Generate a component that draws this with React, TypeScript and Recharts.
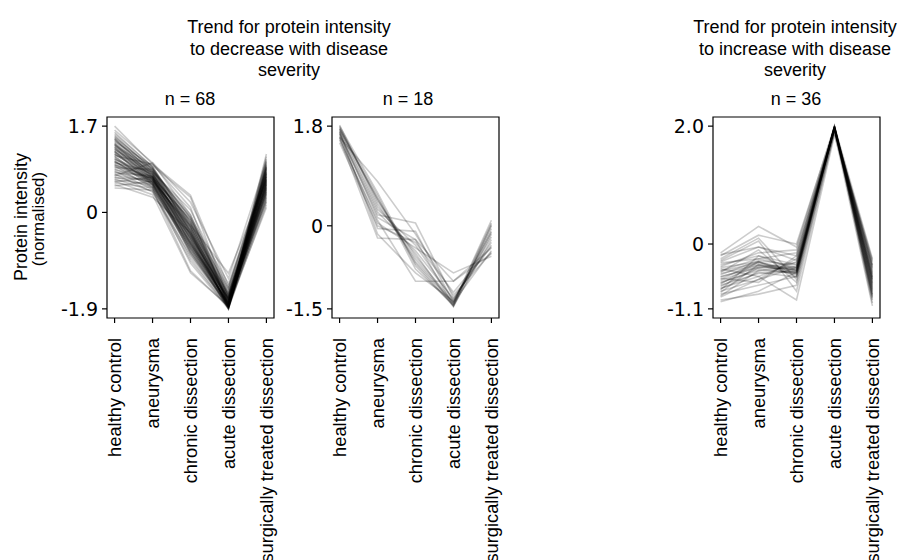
import React from "react";
import { LineChart, Line, XAxis, YAxis, ReferenceArea } from "recharts";

const categories = [
  "healthy control",
  "aneurysma",
  "chronic dissection",
  "acute dissection",
  "surgically treated dissection",
];

// proteins trending down, cluster 1 (n = 68)
const decreaseA: number[][] = [
  [1.7, 0.95, 0.1, -1.85, 1.15],
  [1.55, 0.9, -0.2, -1.8, 1.05],
  [1.5, 0.85, -0.35, -1.9, 0.95],
  [1.45, 0.8, -0.1, -1.75, 0.9],
  [1.4, 0.92, 0.3, -1.7, 0.85],
  [1.38, 0.75, -0.45, -1.85, 0.8],
  [1.35, 0.7, -0.6, -1.88, 0.75],
  [1.32, 0.88, -0.25, -1.65, 0.7],
  [1.3, 0.65, -0.5, -1.8, 0.88],
  [1.28, 0.6, -0.7, -1.9, 0.65],
  [1.25, 0.82, -0.05, -1.6, 0.6],
  [1.22, 0.78, -0.3, -1.72, 0.78],
  [1.2, 0.55, -0.8, -1.85, 0.55],
  [1.18, 0.72, -0.4, -1.78, 0.72],
  [1.15, 0.68, -0.15, -1.55, 0.5],
  [1.12, 0.95, 0.34, -1.45, 0.68],
  [1.1, 0.62, -0.55, -1.82, 0.45],
  [1.08, 0.58, -0.65, -1.7, 0.62],
  [1.05, 0.75, -0.2, -1.62, 0.82],
  [1.02, 0.5, -0.9, -1.88, 0.4],
  [1.0, 0.66, -0.35, -1.76, 0.58],
  [0.98, 0.8, 0.05, -1.5, 0.92],
  [0.96, 0.55, -0.75, -1.84, 0.35],
  [0.94, 0.7, -0.45, -1.68, 0.52],
  [0.92, 0.48, -1.0, -1.9, 0.3],
  [0.9, 0.62, -0.28, -1.58, 0.66],
  [0.88, 0.85, -0.1, -1.4, 0.76],
  [0.86, 0.52, -0.6, -1.8, 0.42],
  [0.84, 0.68, -0.38, -1.72, 0.55],
  [0.82, 0.45, -1.15, -1.86, 0.25],
  [0.8, 0.58, -0.5, -1.64, 0.48],
  [0.78, 0.72, -0.22, -1.52, 0.7],
  [0.76, 0.4, -0.85, -1.82, 0.2],
  [0.74, 0.6, -0.42, -1.74, 0.38],
  [0.72, 0.98, 0.2, -1.3, 1.0],
  [0.7, 0.5, -0.68, -1.78, 0.32],
  [0.68, 0.65, -0.32, -1.66, 0.6],
  [0.66, 0.42, -0.95, -1.88, 0.15],
  [0.64, 0.55, -0.58, -1.7, 0.44],
  [0.62, 0.35, -1.19, -1.84, 0.1],
  [0.6, 0.7, -0.15, -1.48, 0.8],
  [0.58, 0.48, -0.72, -1.76, 0.28],
  [0.55, 0.3, -0.4, -1.6, 0.36],
  [0.52, 0.62, -0.25, -1.2, 0.64],
  [0.48, 0.44, -0.62, -1.68, 0.22],
  [1.62, 0.98, -0.05, -1.82, 1.1],
  [1.48, 0.88, -0.42, -1.88, 0.86],
  [1.42, 0.82, -0.55, -1.86, 0.98],
  [1.36, 0.76, -0.3, -1.78, 0.74],
  [1.33, 0.7, -0.48, -1.84, 0.84],
  [1.26, 0.66, -0.62, -1.8, 0.66],
  [1.24, 0.8, -0.18, -1.74, 0.9],
  [1.16, 0.64, -0.52, -1.86, 0.58],
  [1.14, 0.74, -0.36, -1.7, 0.72],
  [1.06, 0.6, -0.58, -1.82, 0.5],
  [1.04, 0.7, -0.44, -1.76, 0.62],
  [0.99, 0.64, -0.52, -1.84, 0.46],
  [1.46, 0.78, -0.64, -1.9, 0.78],
  [1.52, 0.84, -0.38, -1.86, 0.94],
  [1.58, 0.9, -0.28, -1.84, 1.02],
  [1.44, 0.72, -0.76, -1.88, 0.7],
  [1.34, 0.68, -0.82, -1.86, 0.56],
  [1.21, 0.58, -0.7, -1.82, 0.54],
  [1.11, 0.54, -0.78, -1.8, 0.4],
  [1.01, 0.56, -0.66, -1.78, 0.48],
  [1.29, 0.86, -0.12, -1.68, 0.88],
  [1.19, 0.76, -0.26, -1.62, 0.76],
  [0.93, 0.66, -0.46, -1.72, 0.64],
];

// proteins trending down, cluster 2 (n = 18)
const decreaseB: number[][] = [
  [1.8, 0.6, -0.72, -1.45, 0.02],
  [1.75, 0.55, -0.78, -1.42, -0.05],
  [1.72, 0.5, -0.65, -1.4, 0.05],
  [1.78, 0.45, -0.55, -1.38, -0.1],
  [1.7, 0.3, -0.35, -1.35, -0.2],
  [1.65, 0.2, 0.05, -1.3, -0.35],
  [1.62, -0.05, -0.1, -1.38, -0.45],
  [1.68, 0.15, -0.25, -1.44, -0.25],
  [1.58, -0.22, -0.25, -1.0, -0.4],
  [1.55, 0.1, -1.0, -1.0, -0.5],
  [1.6, 0.05, -0.4, -0.85, -0.55],
  [1.74, 0.35, -0.5, -1.46, -0.15],
  [1.82, 0.4, -0.6, -1.4, 0.1],
  [1.66, 0.25, -0.45, -1.32, -0.3],
  [1.5, 0.0, -0.3, -1.2, -0.38],
  [1.76, 0.48, -0.68, -1.44, 0.0],
  [1.6, 0.8, -0.15, -1.25, -0.48],
  [1.7, -0.15, -0.85, -1.36, -0.12],
];

// proteins trending up (n = 36)
const increase: number[][] = [
  [-0.15, 0.3, -0.05, 2.0, -0.25],
  [-0.2, 0.15, 0.0, 1.98, -0.35],
  [-0.3, -0.05, -0.2, 1.97, -0.4],
  [-0.35, -0.2, -0.35, 1.99, -0.45],
  [-0.4, -0.3, -0.45, 2.0, -0.55],
  [-0.45, -0.25, -0.4, 1.96, -0.5],
  [-0.5, -0.35, -0.48, 1.98, -0.6],
  [-0.55, -0.4, -0.42, 1.95, -0.65],
  [-0.6, -0.3, -0.5, 1.99, -0.7],
  [-0.65, -0.45, -0.38, 1.97, -0.72],
  [-0.7, -0.5, -0.46, 2.0, -0.8],
  [-0.75, -0.55, -0.3, 1.94, -0.85],
  [-0.8, -0.6, -0.25, 1.96, -0.9],
  [-0.85, -0.7, -0.55, 1.98, -0.95],
  [-0.95, -0.85, -0.7, 1.9, -1.05],
  [-0.25, 0.1, -0.6, 1.92, -0.3],
  [-0.38, -0.15, -0.1, 1.95, -0.42],
  [-0.48, -0.1, -0.65, 1.93, -0.58],
  [-0.58, -0.65, -0.2, 1.97, -0.62],
  [-0.68, -0.3, -0.55, 1.99, -0.76],
  [-0.78, -0.2, -0.44, 2.0, -0.82],
  [-0.88, -0.45, -0.48, 1.98, -0.88],
  [-0.42, -0.55, -0.95, 1.85, -0.48],
  [-0.52, -0.28, -0.36, 1.99, -0.56],
  [-0.62, -0.38, -0.44, 1.97, -0.66],
  [-0.72, -0.4, -0.32, 1.96, -0.74],
  [-0.82, -0.35, -0.52, 1.99, -0.86],
  [-0.32, -0.25, -0.15, 1.95, -0.36],
  [-0.46, -0.32, -0.46, 2.0, -0.52],
  [-0.56, -0.36, -0.4, 1.98, -0.6],
  [-0.66, -0.42, -0.5, 1.97, -0.68],
  [-0.76, -0.48, -0.56, 1.96, -0.78],
  [-0.9, -0.6, -0.4, 1.98, -0.92],
  [-0.18, -0.05, -0.28, 1.94, -0.28],
  [-0.28, 0.05, -0.8, 1.9, -0.38],
  [-0.98, -0.8, -0.48, 1.96, -1.0],
];

const ticksA = [-1.9, 0, 1.7];
const ticksB = [-1.5, 0, 1.8];
const ticksC = [-1.1, 0, 2.0];
const tickLabelsA = ["-1.9", "0", "1.7"];
const tickLabelsB = ["-1.5", "0", "1.8"];
const tickLabelsC = ["-1.1", "0", "2.0"];

const SANS = "'Liberation Sans', Arial, Helvetica, sans-serif";
const NUM = "'DejaVu Sans', sans-serif";

const PLOT_TOP = 117;
const PLOT_H = 201;
const PLOT_W = 167;
const AXIS_W = 70;

function CatTick(props: any) {
  const { x, y, payload } = props;
  return (
    <text
      x={x}
      y={y}
      transform={`rotate(-90 ${x} ${y})`}
      textAnchor="end"
      dy="0.35em"
      fill="#000"
      fontSize={18.3}
      fontFamily={SANS}
    >
      {categories[payload.value]}
    </text>
  );
}

function Panel({
  profiles,
  ticks,
  labels,
  plotLeft,
  opacity,
}: {
  profiles: number[][];
  ticks: number[];
  labels: string[];
  plotLeft: number;
  opacity: number;
}) {
  const pad = (ticks[ticks.length - 1] - ticks[0]) * 0.05;
  const domain = [ticks[0] - pad, ticks[ticks.length - 1] + pad];
  const rows = categories.map((_, i) => {
    const row: Record<string, number> = { x: i };
    profiles.forEach((p, j) => {
      row["p" + j] = p[i];
    });
    return row;
  });
  return (
    <div style={{ position: "absolute", left: plotLeft - AXIS_W, top: 0 }}>
      <LineChart
        width={AXIS_W + PLOT_W + 8}
        height={560}
        data={rows}
        margin={{ top: PLOT_TOP, right: 8, bottom: 0, left: 0 }}
      >
        <XAxis
          dataKey="x"
          type="number"
          domain={[-0.2, 4.2]}
          ticks={[0, 1, 2, 3, 4]}
          interval={0}
          height={560 - PLOT_TOP - PLOT_H}
          axisLine={false}
          tickLine={{ stroke: "#000", strokeWidth: 1.2 }}
          tickSize={5}
          tickMargin={15}
          tick={<CatTick />}
          allowDataOverflow
        />
        <YAxis
          type="number"
          domain={domain}
          ticks={ticks}
          width={AXIS_W}
          axisLine={false}
          tickLine={{ stroke: "#000", strokeWidth: 1.2 }}
          tickSize={5}
          tickMargin={4}
          tick={{ fill: "#000", fontSize: 19, fontFamily: NUM }}
          tickFormatter={(v: number) => labels[ticks.indexOf(v)] ?? String(v)}
          allowDataOverflow
        />
        {profiles.map((_, j) => (
          <Line
            key={j}
            dataKey={"p" + j}
            stroke="#000"
            strokeOpacity={opacity}
            strokeWidth={1.6}
            dot={false}
            activeDot={false}
            isAnimationActive={false}
          />
        ))}
        <ReferenceArea
          x1={-0.2}
          x2={4.2}
          y1={domain[0]}
          y2={domain[1]}
          fill="none"
          fillOpacity={0}
          stroke="#000"
          strokeWidth={1.2}
          ifOverflow="visible"
        />
      </LineChart>
    </div>
  );
}

export default function App() {
  const txt = { fontFamily: SANS, fontSize: 18, fill: "#000" };
  return (
    <div
      style={{
        position: "absolute",
        left: 0,
        top: 0,
        width: 899,
        height: 560,
        background: "#fff",
        overflow: "hidden",
      }}
    >
      <Panel profiles={decreaseA} ticks={ticksA} labels={tickLabelsA} plotLeft={107} opacity={0.2} />
      <Panel profiles={decreaseB} ticks={ticksB} labels={tickLabelsB} plotLeft={332} opacity={0.2} />
      <Panel profiles={increase} ticks={ticksC} labels={tickLabelsC} plotLeft={713} opacity={0.2} />
      <svg
        width={899}
        height={560}
        style={{ position: "absolute", left: 0, top: 0, pointerEvents: "none" }}
      >
        <g textAnchor="middle" {...txt}>
          <text x={289} y={33}>Trend for protein intensity</text>
          <text x={289} y={55}>to decrease with disease</text>
          <text x={289} y={76}>severity</text>
          <text x={190} y={105}>n = 68</text>
          <text x={408} y={105}>n = 18</text>
          <text x={795} y={33}>Trend for protein intensity</text>
          <text x={795} y={55}>to increase with disease</text>
          <text x={795} y={76}>severity</text>
          <text x={796} y={105}>n = 36</text>
          <text x={27} y={217} transform="rotate(-90 27 217)">Protein intensity</text>
          <text x={44} y={219} fontSize={17} transform="rotate(-90 44 219)">(normalised)</text>
        </g>
      </svg>
    </div>
  );
}
